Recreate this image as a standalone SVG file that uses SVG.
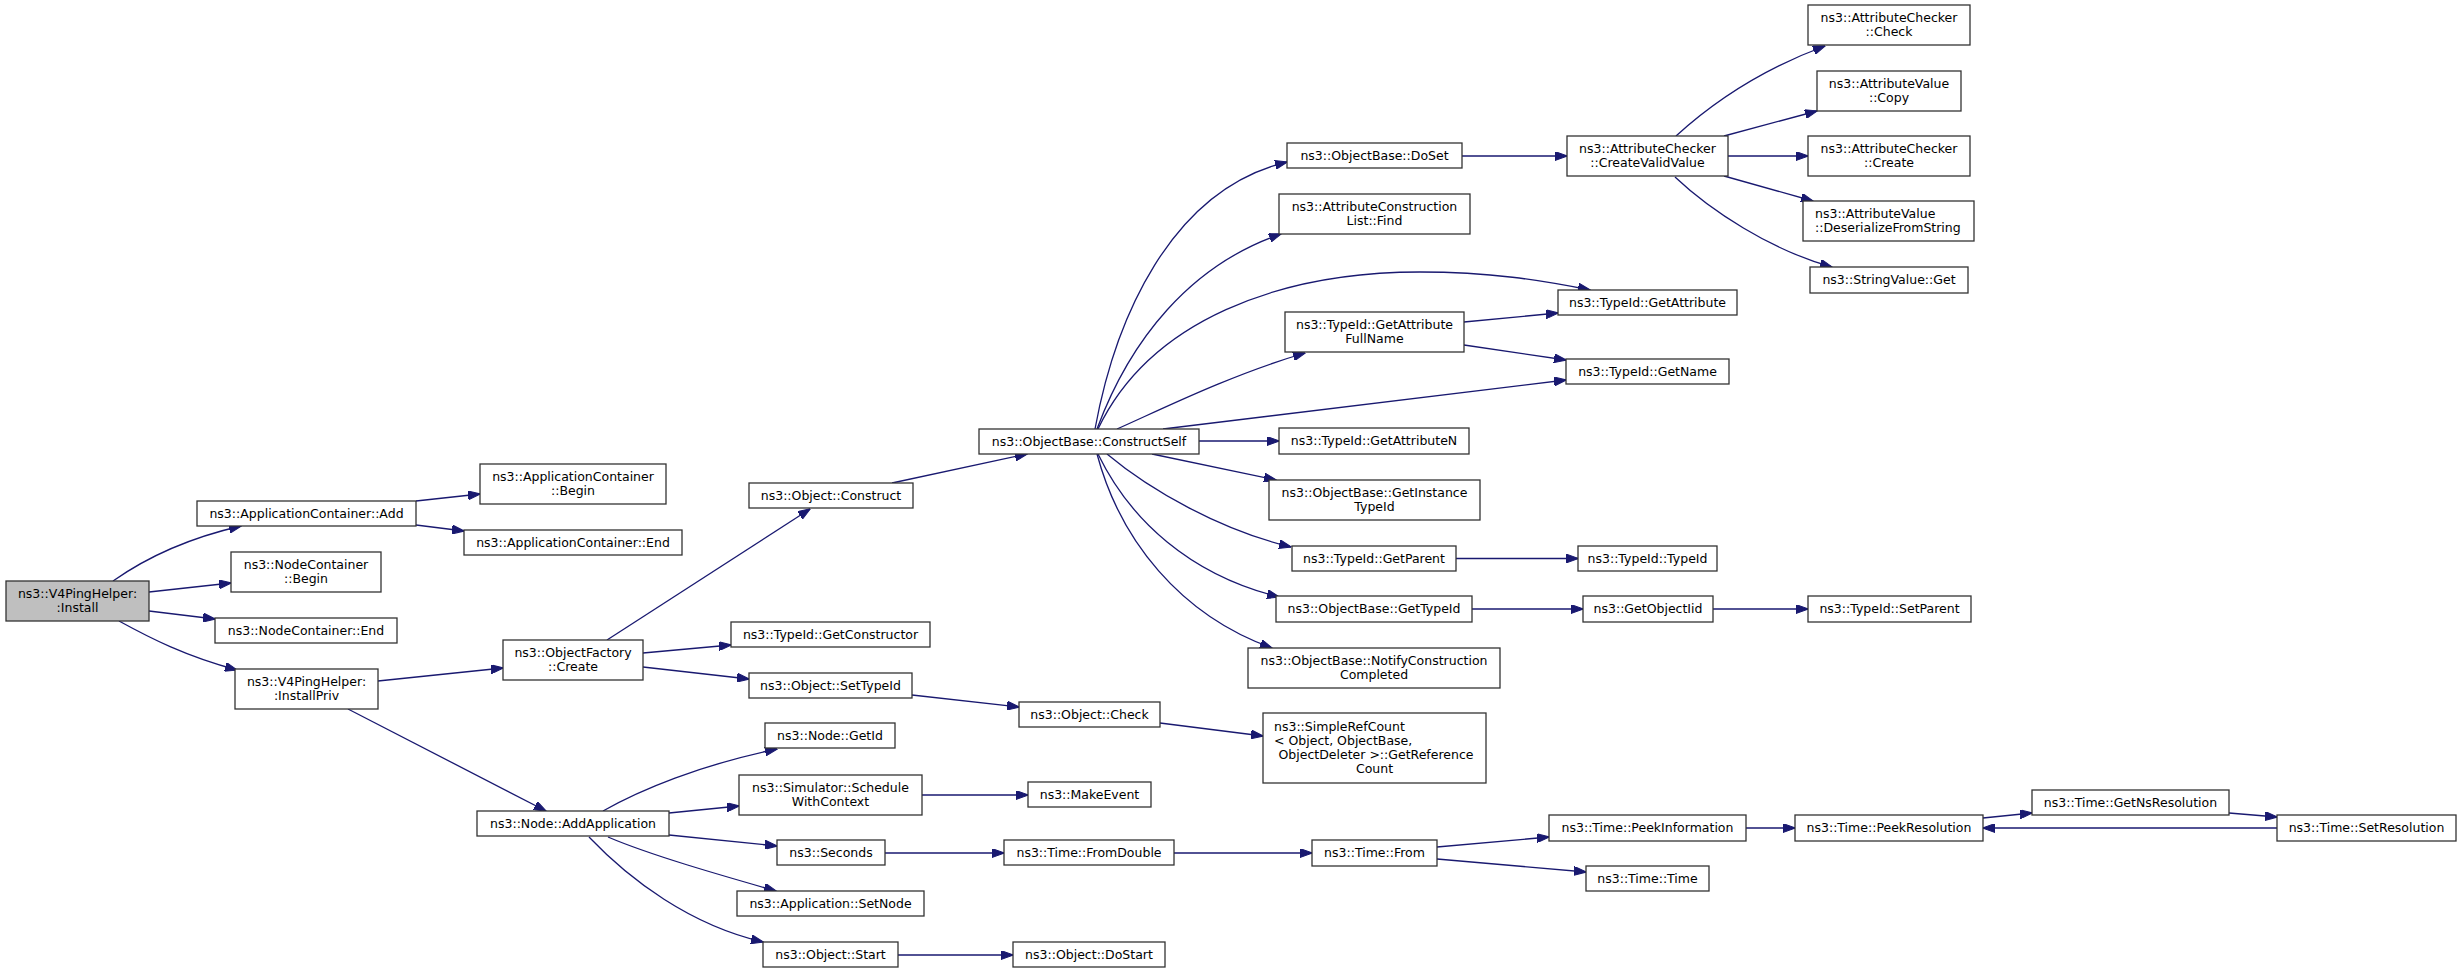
<svg xmlns="http://www.w3.org/2000/svg" width="2461" height="973" viewBox="0 0 2461 973">
<style>
.n rect{fill:#ffffff;stroke:#333333;stroke-width:1.3}
.root rect{fill:#bfbfbf}
.n text{font-family:"DejaVu Sans","Liberation Sans",sans-serif;font-size:12.5px;fill:#000000;text-anchor:middle}
.n text.l{text-anchor:start}
#edges path{fill:none;stroke:#191970;stroke-width:1.3;marker-end:url(#arr)}
</style>
<defs>
<marker id="arr" viewBox="0 0 12.5 9" refX="12" refY="4.5" markerWidth="12.5" markerHeight="9" markerUnits="userSpaceOnUse" orient="auto">
<path d="M0,0 L12.5,4.5 L0,9 z" fill="#191970" stroke="#191970" stroke-width="1"/>
</marker>
</defs>
<rect width="2461" height="973" fill="#ffffff"/>
<g id="edges">
<path d="M113,581 C140,562 180,540 241,526"/>
<path d="M149,592 L231,583"/>
<path d="M149,611 L215,619"/>
<path d="M119,621 C150,638 185,656 237,670"/>
<path d="M416,501 L480,494"/>
<path d="M416,525 L464,531"/>
<path d="M378,681 L503,668"/>
<path d="M348,709 L546,811"/>
<path d="M607,640 L810,509"/>
<path d="M643,653 L731,645"/>
<path d="M643,667 L749,679"/>
<path d="M912,695 L1019,707"/>
<path d="M1160,723 L1263,736"/>
<path d="M892,483 L1027,454"/>
<path d="M1095,429 C1115,320 1170,190 1287,162"/>
<path d="M1097,429 C1130,340 1190,265 1281,234"/>
<path d="M1098,429 C1150,320 1280,272 1420,272 C1490,272 1540,280 1590,290"/>
<path d="M1117,429 C1160,410 1230,375 1305,353"/>
<path d="M1163,429 L1566,380"/>
<path d="M1199,441 L1279,441"/>
<path d="M1152,454 L1276,480"/>
<path d="M1107,454 C1150,490 1220,530 1291,547"/>
<path d="M1098,454 C1130,520 1190,575 1279,597"/>
<path d="M1097,454 C1120,540 1180,615 1272,648"/>
<path d="M1462,156 L1567,156"/>
<path d="M1464,322 L1558,313"/>
<path d="M1464,345 L1566,360"/>
<path d="M1456,558.5 L1578,558.5"/>
<path d="M1472,609 L1583,609"/>
<path d="M1713,609 L1808,609"/>
<path d="M1676,136 C1710,105 1760,70 1825,46"/>
<path d="M1724,136 L1817,111"/>
<path d="M1728,156 L1808,156"/>
<path d="M1724,176 L1813,201"/>
<path d="M1675,177 C1710,210 1770,250 1832,267"/>
<path d="M603,811 C640,790 700,765 777,749"/>
<path d="M669,813 L739,806"/>
<path d="M669,835 L777,846"/>
<path d="M608,837 C650,855 720,875 776,891"/>
<path d="M589,837 C630,880 690,925 763,942"/>
<path d="M922,795 L1028,795"/>
<path d="M885,853 L1004,853"/>
<path d="M898,955 L1013,955"/>
<path d="M1174,853 L1312,853"/>
<path d="M1437,847 L1549,837"/>
<path d="M1437,859 L1586,872"/>
<path d="M1746,828 L1795,828"/>
<path d="M1983,818 L2032,813"/>
<path d="M2229,813 L2277,817"/>
<path d="M2277,828 L1983,828"/>
</g>
<g id="install" class="n root"><rect x="6" y="581" width="143" height="40"/><text x="77.5" y="598">ns3::V4PingHelper:</text><text x="77.5" y="612">:Install</text></g>
<g id="appAdd" class="n"><rect x="197" y="501" width="219" height="25"/><text x="306.5" y="517.5">ns3::ApplicationContainer::Add</text></g>
<g id="acBegin" class="n"><rect x="480" y="464" width="186" height="40"/><text x="573" y="481">ns3::ApplicationContainer</text><text x="573" y="495">::Begin</text></g>
<g id="acEnd" class="n"><rect x="464" y="530" width="218" height="25"/><text x="573" y="546.5">ns3::ApplicationContainer::End</text></g>
<g id="ncBegin" class="n"><rect x="231" y="552" width="150" height="40"/><text x="306" y="569">ns3::NodeContainer</text><text x="306" y="583">::Begin</text></g>
<g id="ncEnd" class="n"><rect x="215" y="618" width="182" height="25"/><text x="306" y="634.5">ns3::NodeContainer::End</text></g>
<g id="installPriv" class="n"><rect x="235" y="669" width="143" height="40"/><text x="306.5" y="686">ns3::V4PingHelper:</text><text x="306.5" y="700">:InstallPriv</text></g>
<g id="ofCreate" class="n"><rect x="503" y="640" width="140" height="40"/><text x="573" y="657">ns3::ObjectFactory</text><text x="573" y="671">::Create</text></g>
<g id="addApp" class="n"><rect x="477" y="811" width="192" height="25"/><text x="573" y="827.5">ns3::Node::AddApplication</text></g>
<g id="objConstruct" class="n"><rect x="749" y="483" width="164" height="25"/><text x="831" y="499.5">ns3::Object::Construct</text></g>
<g id="getConstructor" class="n"><rect x="731" y="622" width="199" height="25"/><text x="830.5" y="638.5">ns3::TypeId::GetConstructor</text></g>
<g id="setTypeId" class="n"><rect x="749" y="673" width="163" height="25"/><text x="830.5" y="689.5">ns3::Object::SetTypeId</text></g>
<g id="getId" class="n"><rect x="765" y="723" width="130" height="25"/><text x="830" y="739.5">ns3::Node::GetId</text></g>
<g id="schedule" class="n"><rect x="739" y="775" width="183" height="40"/><text x="830.5" y="792">ns3::Simulator::Schedule</text><text x="830.5" y="806">WithContext</text></g>
<g id="seconds" class="n"><rect x="777" y="840" width="108" height="25"/><text x="831" y="856.5">ns3::Seconds</text></g>
<g id="setNode" class="n"><rect x="737" y="891" width="187" height="25"/><text x="830.5" y="907.5">ns3::Application::SetNode</text></g>
<g id="objStart" class="n"><rect x="763" y="942" width="135" height="25"/><text x="830.5" y="958.5">ns3::Object::Start</text></g>
<g id="constructSelf" class="n"><rect x="979" y="429" width="220" height="25"/><text x="1089" y="445.5">ns3::ObjectBase::ConstructSelf</text></g>
<g id="objCheck" class="n"><rect x="1019" y="702" width="141" height="25"/><text x="1089.5" y="718.5">ns3::Object::Check</text></g>
<g id="makeEvent" class="n"><rect x="1028" y="782" width="123" height="25"/><text x="1089.5" y="798.5">ns3::MakeEvent</text></g>
<g id="fromDouble" class="n"><rect x="1004" y="840" width="170" height="25"/><text x="1089" y="856.5">ns3::Time::FromDouble</text></g>
<g id="doStart" class="n"><rect x="1013" y="942" width="152" height="25"/><text x="1089" y="958.5">ns3::Object::DoStart</text></g>
<g id="doSet" class="n"><rect x="1287" y="143" width="175" height="25"/><text x="1374.5" y="159.5">ns3::ObjectBase::DoSet</text></g>
<g id="acFind" class="n"><rect x="1279" y="194" width="191" height="40"/><text x="1374.5" y="211">ns3::AttributeConstruction</text><text x="1374.5" y="225">List::Find</text></g>
<g id="fullName" class="n"><rect x="1285" y="312" width="179" height="40"/><text x="1374.5" y="329">ns3::TypeId::GetAttribute</text><text x="1374.5" y="343">FullName</text></g>
<g id="getAttrN" class="n"><rect x="1279" y="428" width="190" height="26"/><text x="1374" y="445">ns3::TypeId::GetAttributeN</text></g>
<g id="instTypeId" class="n"><rect x="1269" y="480" width="211" height="40"/><text x="1374.5" y="497">ns3::ObjectBase::GetInstance</text><text x="1374.5" y="511">TypeId</text></g>
<g id="getParent" class="n"><rect x="1292" y="546" width="164" height="25"/><text x="1374" y="562.5">ns3::TypeId::GetParent</text></g>
<g id="obGetTypeId" class="n"><rect x="1276" y="596" width="196" height="26"/><text x="1374" y="613">ns3::ObjectBase::GetTypeId</text></g>
<g id="notify" class="n"><rect x="1248" y="648" width="252" height="40"/><text x="1374" y="665">ns3::ObjectBase::NotifyConstruction</text><text x="1374" y="679">Completed</text></g>
<g id="simpleRef" class="n"><rect x="1263" y="713" width="223" height="70"/><text class="l" x="1274" y="731">ns3::SimpleRefCount</text><text class="l" x="1274" y="745">&lt; Object, ObjectBase,</text><text x="1376" y="759">ObjectDeleter &gt;::GetReference</text><text x="1374.5" y="773">Count</text></g>
<g id="timeFrom" class="n"><rect x="1312" y="840" width="125" height="26"/><text x="1374.5" y="857">ns3::Time::From</text></g>
<g id="createValid" class="n"><rect x="1567" y="136" width="161" height="40"/><text x="1647.5" y="153">ns3::AttributeChecker</text><text x="1647.5" y="167">::CreateValidValue</text></g>
<g id="getAttribute" class="n"><rect x="1558" y="290" width="179" height="25"/><text x="1647.5" y="306.5">ns3::TypeId::GetAttribute</text></g>
<g id="getName" class="n"><rect x="1566" y="359" width="163" height="25"/><text x="1647.5" y="375.5">ns3::TypeId::GetName</text></g>
<g id="typeIdCtor" class="n"><rect x="1578" y="546" width="139" height="25"/><text x="1647.5" y="562.5">ns3::TypeId::TypeId</text></g>
<g id="getObjectIid" class="n"><rect x="1583" y="596" width="130" height="26"/><text x="1648" y="613">ns3::GetObjectIid</text></g>
<g id="peekInfo" class="n"><rect x="1549" y="815" width="197" height="26"/><text x="1647.5" y="832">ns3::Time::PeekInformation</text></g>
<g id="timeTime" class="n"><rect x="1586" y="866" width="123" height="25"/><text x="1647.5" y="882.5">ns3::Time::Time</text></g>
<g id="acCheck" class="n"><rect x="1808" y="5" width="162" height="40"/><text x="1889" y="22">ns3::AttributeChecker</text><text x="1889" y="36">::Check</text></g>
<g id="avCopy" class="n"><rect x="1817" y="71" width="144" height="40"/><text x="1889" y="88">ns3::AttributeValue</text><text x="1889" y="102">::Copy</text></g>
<g id="acCreate" class="n"><rect x="1808" y="136" width="162" height="40"/><text x="1889" y="153">ns3::AttributeChecker</text><text x="1889" y="167">::Create</text></g>
<g id="avDeser" class="n"><rect x="1803" y="201" width="171" height="40"/><text class="l" x="1815" y="218">ns3::AttributeValue</text><text class="l" x="1815" y="232">::DeserializeFromString</text></g>
<g id="svGet" class="n"><rect x="1810" y="267" width="158" height="26"/><text x="1889" y="284">ns3::StringValue::Get</text></g>
<g id="setParent" class="n"><rect x="1808" y="596" width="163" height="26"/><text x="1889.5" y="613">ns3::TypeId::SetParent</text></g>
<g id="peekRes" class="n"><rect x="1795" y="815" width="188" height="26"/><text x="1889" y="832">ns3::Time::PeekResolution</text></g>
<g id="getNsRes" class="n"><rect x="2032" y="790" width="197" height="25"/><text x="2130.5" y="806.5">ns3::Time::GetNsResolution</text></g>
<g id="setRes" class="n"><rect x="2277" y="815" width="179" height="26"/><text x="2366.5" y="832">ns3::Time::SetResolution</text></g>
</svg>
